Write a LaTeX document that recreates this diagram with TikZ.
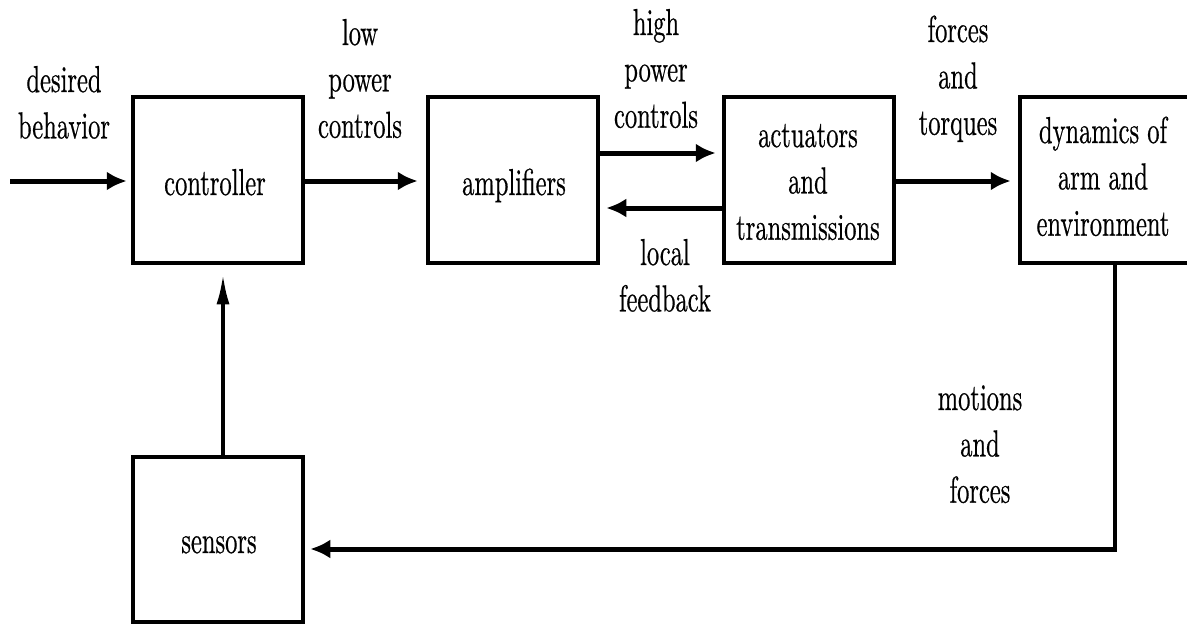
\documentclass[tikz,border=0pt]{standalone}
\usepackage{fontspec}
\setmainfont{lmroman10-regular}[Extension=.otf, FakeBold=0.7]
\usepackage{graphicx}
\usetikzlibrary{arrows.meta,calc}
\newcommand\stxt[1]{\scalebox{1}[1.53]{\fontsize{24.5}{30.3}\selectfont\bfseries\begin{tabular}[t]{@{}c@{}}#1\end{tabular}}}
\begin{document}
\begin{tikzpicture}[x=1pt,y=-1pt,
  box/.style={draw, line width=4.5pt, minimum width=170pt, minimum height=166pt, inner sep=0pt},
  txt/.style={anchor=base, inner sep=0pt},
  arr/.style={line width=5pt, -{Latex[length=20pt,width=19pt]}, shorten >=6pt},
  varr/.style={line width=3.5pt, -{Latex[length=30pt,width=13pt]}, shorten >=9pt},
  thinline/.style={line width=3.5pt, line cap=rect}]
\useasboundingbox (0,0) rectangle (1187,626);
\fill[white] (0,0) rectangle (1187,626);
\clip (0,0) rectangle (1187,626);
% boxes
\node[box] (ctrl) at (218,180) {};
\node[box] (amp) at (513,180) {};
\node[box] (act) at (809,180) {};
\node[box] (dyn) at (1105,180) {};
\node[box, minimum height=165pt] (sens) at (218,539.5) {};
% box texts
\node[txt] (ctrlT) at ($(ctrl.center)+(-3,15)$) {\stxt{controller}};
\node[txt] (ampT) at ($(amp.center)+(1,15)$) {\stxt{amplifiers}};
\node[txt] (actT) at ($(act.center)+(-1,-33)$) {\stxt{actuators\\and\\transmissions}};
\node[txt] (dynT) at ($(dyn.center)+(-2,-37)$) {\stxt{dynamics of\\arm and\\environment}};
\node[txt] (sensT) at ($(sens.center)+(1,13.5)$) {\stxt{sensors}};
% connector labels
\node[txt] (l1) at (64,92) {\stxt{desired\\behavior}};
\node[txt] (l2) at (360,45) {\stxt{low\\power\\controls}};
\node[txt] (l3) at (656,35) {\stxt{high\\power\\controls}};
\node[txt] (l4) at (958,42) {\stxt{forces\\and\\torques}};
\node[txt] (l5) at (665,265) {\stxt{local\\feedback}};
\node[txt] (l6) at (980,410) {\stxt{motions\\and\\forces}};
% connectors
\coordinate (in) at (10,181);
\draw[arr, shorten >=4pt] (in) -- (in -| ctrl.west);
\draw[arr, shorten >=8pt] (ctrl.east |- in) -- (amp.west |- in);
\draw[arr] ([yshift=27pt]amp.east) -- ([yshift=27pt]act.west);
\draw[arr] ([yshift=-28pt]act.west) -- ([yshift=-28pt]amp.east);
\draw[arr, shorten >=7pt] (act.east |- in) -- (dyn.west |- in);
\coordinate (corner) at (1115,549);
\draw[thinline] (corner |- dyn.south) -- (corner);
\draw[arr, shorten >=5pt] ([xshift=1.75pt]corner) -- (corner -| sens.east);
\draw[varr] ([xshift=5pt]sens.north) -- ([xshift=5pt]ctrl.south);
\end{tikzpicture}
\end{document}
